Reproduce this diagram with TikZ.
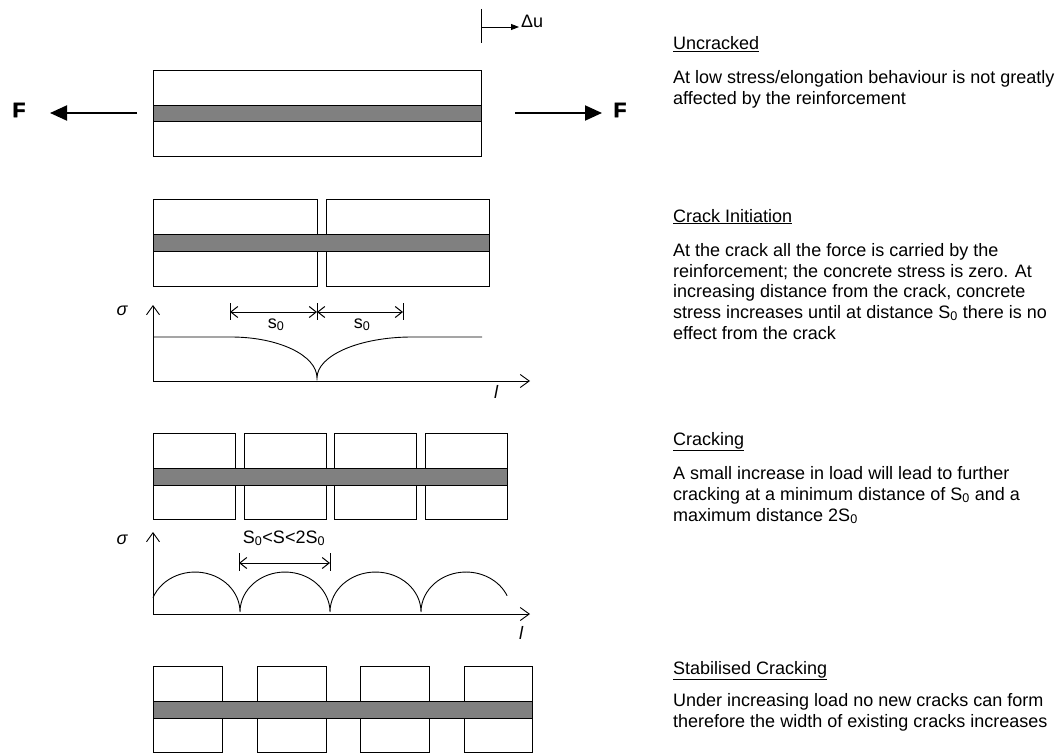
\documentclass[tikz,border=0pt]{standalone}
\usepackage{fontspec}
\setmainfont{Liberation Sans}
\newfontfamily\heavyfont[FakeBold=2.5]{Liberation Sans}
\usetikzlibrary{arrows.meta}
\begin{document}
\begin{tikzpicture}[x=1pt,y=1pt,
  conc/.style={draw=black,line width=0.9pt,fill=white},
  steel/.style={draw=black,line width=0.9pt,fill=black!50},
  txt/.style={anchor=base west,inner sep=0pt,font=\fontsize{18}{20.7}\selectfont},
  lbl/.style={inner sep=0pt,font=\fontsize{18}{21}\selectfont},
  bigF/.style={inner sep=0pt,font=\fontsize{21}{21}\selectfont\heavyfont\bfseries},
  force/.style={line width=2pt,-{Triangle[length=17pt,width=15pt]}},
  axis/.style={line width=0.9pt,-{Straight Barb[length=9pt,width=13pt,line width=0.9pt]}},
  dim/.style={line width=1pt,{Straight Barb[length=7pt,width=11pt]}-{Straight Barb[length=7pt,width=11pt]}},
  thin/.style={line width=0.9pt}]
\useasboundingbox (0,0) rectangle (1064,-754);

% ---------- Panel 1: uncracked ----------
\draw[conc] (153,-70) rectangle (481,-156);
\draw[steel] (153,-105) rectangle (481,-121);
\node[bigF] (FL) at (19,-110) {F};
\node[bigF] (FR) at (620,-110) {F};
\coordinate (aL0) at (137,-113); \coordinate (aL1) at (50,-113);
\coordinate (aR0) at (515,-113); \coordinate (aR1) at (602,-113);
\draw[force] (aL0) -- (aL1);
\draw[force] (aR0) -- (aR1);
\coordinate (du0) at (481,-9); \coordinate (du1) at (481,-43);
\coordinate (du2) at (481,-27); \coordinate (du3) at (519,-27);
\draw[thin] (du0) -- (du1);
\draw[thin,-{Triangle[length=8pt,width=6pt]}] (du2) -- (du3);
\node[lbl,anchor=west] (du) at (521,-21) {Δu};

% ---------- Panel 2: crack initiation ----------
\draw[conc] (153,-199) rectangle (317,-286);
\draw[conc] (326,-199) rectangle (489,-286);
\draw[steel] (153,-234) rectangle (489,-251);
\coordinate (O2) at (153,-381);
\coordinate (Y2) at (153,-305);
\coordinate (X2) at (530,-381);
\draw[axis] (O2) -- (Y2);
\draw[axis] (O2) -- (X2);
\node[lbl,font=\fontsize{18}{21}\selectfont\itshape] (sig2) at (122,-311) {σ};
\node[lbl,font=\fontsize{18}{21}\selectfont\itshape] (l2) at (496,-392) {l};
\draw[thin] (153,-337) -- (231,-337)
  arc[start angle=90,end angle=0,x radius=86,y radius=41]
  arc[start angle=180,end angle=90,x radius=95,y radius=41] -- (482,-337);
\foreach \xx in {230,317,403} \draw[thin] (\xx,-303) -- (\xx,-320);
\coordinate (d1) at (230,-312); \coordinate (d2) at (317,-312); \coordinate (d3) at (403,-312);
\draw[dim] (d1) -- (d2);
\draw[dim] (d2) -- (d3);
\node[lbl,anchor=base] (s0a) at (276,-328) {s\textsubscript{0}};
\node[lbl,anchor=base] (s0b) at (362,-328) {s\textsubscript{0}};

% ---------- Panel 3: cracking ----------
\draw[conc] (153,-433) rectangle (235,-519);
\draw[conc] (244,-433) rectangle (326,-519);
\draw[conc] (334,-433) rectangle (416,-519);
\draw[conc] (425,-433) rectangle (507,-519);
\draw[steel] (153,-468) rectangle (507,-485);
\coordinate (O3) at (153,-614);
\coordinate (Y3) at (153,-532);
\coordinate (X3) at (530,-614);
\draw[axis] (O3) -- (Y3);
\draw[axis] (O3) -- (X3);
\node[lbl,font=\fontsize{18}{21}\selectfont\itshape] (sig3) at (122,-540) {σ};
\node[lbl,font=\fontsize{18}{21}\selectfont\itshape] (l3) at (521,-633) {l};
\draw[thin] (153,-597.7)
  arc[start angle=159,end angle=0,x radius=45,y radius=40]
  arc[start angle=180,end angle=0,x radius=45,y radius=40]
  arc[start angle=180,end angle=0,x radius=45.5,y radius=40]
  arc[start angle=180,end angle=24,x radius=45,y radius=40];
\draw[thin] (239,-553) -- (239,-571);
\draw[thin] (330,-553) -- (330,-571);
\coordinate (e1) at (239,-563); \coordinate (e2) at (330,-563);
\draw[dim] (e1) -- (e2);
\node[lbl,anchor=base] (srange) at (284,-543) {S\textsubscript{0}<S<2S\textsubscript{0}};

% ---------- Panel 4: stabilised cracking ----------
\draw[conc] (153,-666) rectangle (222,-752);
\draw[conc] (257,-666) rectangle (326,-752);
\draw[conc] (360,-666) rectangle (429,-752);
\draw[conc] (464,-666) rectangle (532,-752);
\draw[steel] (153,-701) rectangle (532,-718);

% ---------- Descriptions ----------
\node[txt] (h1) at (673,-50) {\underline{Uncracked}};
\node[txt] (t11) at (673,-84) {At low stress/elongation behaviour is not greatly};
\node[txt] (t12) at (673,-105) {affected by the reinforcement};

\node[txt] (h2) at (673,-222) {\underline{Crack Initiation}};
\node[txt] (t21) at (673,-256) {At the crack all the force is carried by the};
\node[txt] (t22) at (673,-277) {reinforcement; the concrete stress is zero. At};
\node[txt] (t23) at (673,-297) {increasing distance from the crack, concrete};
\node[txt] (t24) at (673,-318) {stress increases until at distance S\textsubscript{0} there is no};
\node[txt] (t25) at (673,-339) {effect from the crack};

\node[txt] (h3) at (673,-445) {\underline{Cracking}};
\node[txt] (t31) at (673,-479) {A small increase in load will lead to further};
\node[txt] (t32) at (673,-500) {cracking at a minimum distance of S\textsubscript{0} and a};
\node[txt] (t33) at (673,-521) {maximum distance 2S\textsubscript{0}};

\node[txt] (h4) at (673,-674) {\underline{Stabilised Cracking}};
\node[txt] (t41) at (673,-706) {Under increasing load no new cracks can form};
\node[txt] (t42) at (673,-727) {therefore the width of existing cracks increases};
\end{tikzpicture}
\end{document}
